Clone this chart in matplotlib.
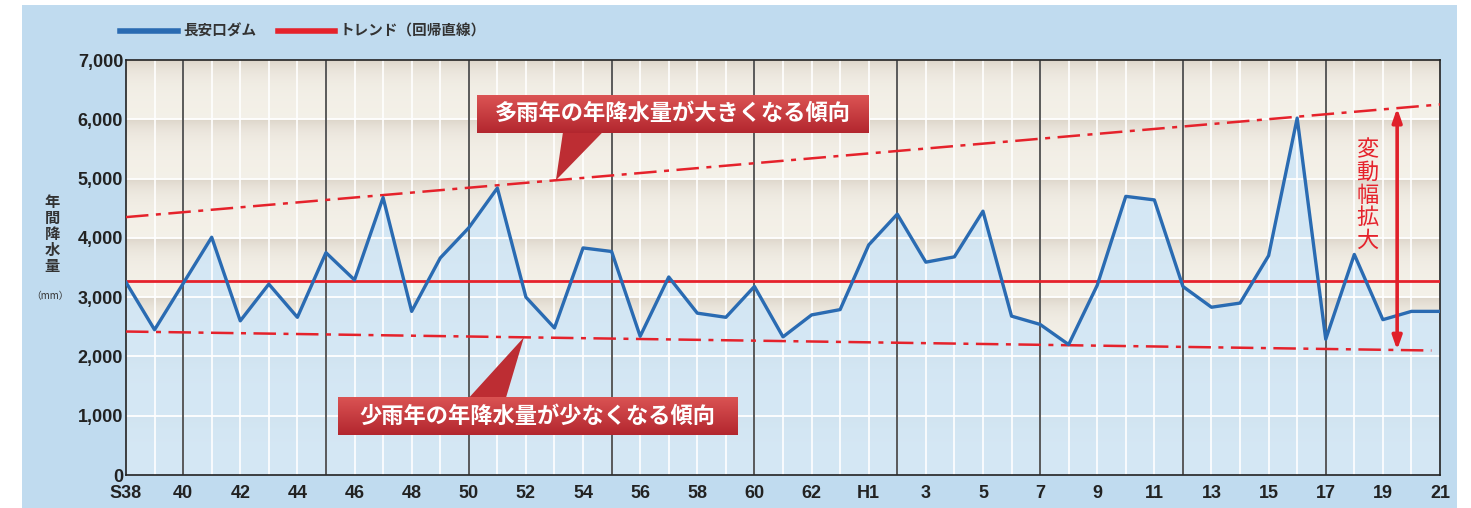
import numpy as np
import matplotlib.pyplot as plt
from matplotlib.lines import Line2D
from matplotlib.patches import Rectangle, Polygon

plt.rcParams['font.family'] = ['Noto Sans CJK JP', 'DejaVu Sans']

# annual rainfall at Nagayasuguchi dam (mm), S38 (1963) .. H21 (2009)
years = np.arange(1963, 2010)
rain = [3250, 2450, 3230, 4010, 2600, 3220, 2660, 3750, 3290, 4680,
        2760, 3660, 4170, 4840, 3000, 2480, 3830, 3770, 2340, 3340,
        2730, 2660, 3180, 2330, 2700, 2790, 3880, 4400, 3590, 3680,
        4450, 2680, 2540, 2200, 3200, 4700, 4640, 3180, 2830, 2900,
        3700, 6020, 2290, 3720, 2620, 2760, 2760]
mean_rain = 3280

# regression lines for wet / dry years (end points)
upper_years = [1963, 2009]
upper_trend = [4350, 6250]
lower_years = [1963, 2008.7]
lower_trend = [2420, 2100]

tick_years = [1963, 1965, 1967, 1969, 1971, 1973, 1975, 1977, 1979, 1981,
              1983, 1985, 1987, 1989, 1991, 1993, 1995, 1997, 1999, 2001,
              2003, 2005, 2007, 2009]
tick_labels = ['S38', '40', '42', '44', '46', '48', '50', '52', '54', '56',
               '58', '60', '62', 'H1', '3', '5', '7', '9', '11', '13',
               '15', '17', '19', '21']
y_ticks = [0, 1000, 2000, 3000, 4000, 5000, 6000, 7000]

series_name = '長安口ダム'
trend_name = 'トレンド（回帰直線）'
wet_note = '多雨年の年降水量が大きくなる傾向'
dry_note = '少雨年の年降水量が少なくなる傾向'
range_note = '変動幅拡大'

W, H = 1471, 508
fig = plt.figure(figsize=(W / 100, H / 100), dpi=100)
fig.patch.set_facecolor('white')
fig.add_artist(Rectangle((22 / W, 0), (1457 - 22) / W, 1 - 5 / H,
                         transform=fig.transFigure, fc='#c0dbef', ec='none', zorder=0))

ax = fig.add_axes([126 / W, 1 - 475 / H, (1440 - 126) / W, (475 - 60) / H])
ax.set_xlim(1963, 2009)
ax.set_ylim(0, 7000)

# beige background with a soft shadow under each 1000 mm line
yy = np.linspace(0, 7000, 1400)
dist = (1000 - (yy % 1000)) / 1000
shade = np.exp(-dist / 0.22)
light = np.array([0.957, 0.944, 0.912])
dark = np.array([0.865, 0.835, 0.790])
img = light[None, :] + (dark - light)[None, :] * shade[:, None]
ax.imshow(img[:, None, :], extent=[1963, 2009, 0, 7000], origin='lower',
          aspect='auto', zorder=0, interpolation='bilinear')

ax.fill_between(years, rain, 0, color='#cfe6f7', alpha=0.85, lw=0, zorder=1)

ax.hlines(y_ticks[1:-1], 1963, 2009, color='white', lw=1.3, zorder=2)
ax.vlines(years[1:-1], 0, 7000, color='white', lw=1.2, zorder=2)
ax.vlines(np.arange(1965, 2009, 5), 0, 7000, color='#2e2e2e', lw=1.1, zorder=3)

red = '#e5222b'
ax.axhline(mean_rain, color=red, lw=2.0, zorder=4)
ax.plot(upper_years, upper_trend, color=red, lw=1.8, ls=(0, (9, 3, 2, 3)), zorder=4)
ax.plot(lower_years, lower_trend, color=red, lw=1.8, ls=(0, (9, 3, 2, 3)), zorder=4)
ax.plot(years, rain, color='#2a6bb2', lw=2.4, zorder=5)

# range arrow between the two trend lines
ay = 2007.5
ax.annotate('', xy=(ay, np.interp(ay, upper_years, upper_trend)),
            xytext=(ay, np.interp(ay, lower_years, lower_trend)),
            arrowprops=dict(arrowstyle='<|-|>,head_length=0.8,head_width=0.28',
                            color='#e0202a', lw=2.6, shrinkA=0, shrinkB=0), zorder=6)
ax.text(2006.45, 4720, '\n'.join(range_note), color=red, fontsize=16,
        ha='center', va='center', linespacing=0.98, zorder=6)


# red callout box with a small pointer to a trend line
grad = np.linspace(0, 1, 64)
box_top = np.array([0.86, 0.33, 0.33])
box_bot = np.array([0.70, 0.15, 0.18])
box_img = (box_bot[None, :] + (box_top - box_bot)[None, :] * grad[:, None])[:, None, :]


def callout(text, x0, x1, y0, y1, base, tip):
    ax.add_patch(Polygon([(base[0], base[2]), (base[1], base[2]), tip],
                         closed=True, fc='#bd2d33', ec='none', zorder=7))
    rect = Rectangle((x0, y0), x1 - x0, y1 - y0, fc='none', ec='none', zorder=7)
    ax.add_patch(rect)
    im = ax.imshow(box_img, extent=[x0, x1, y0, y1], origin='lower',
                   aspect='auto', zorder=7.5, interpolation='bilinear')
    im.set_clip_path(rect)
    ax.text((x0 + x1) / 2, (y0 + y1) / 2, text, color='white', fontsize=16,
            fontweight='bold', ha='center', va='center', zorder=8)


wx = 1978.05
callout(wet_note, 1975.3, 1989.0, 5770, 6410,
        (1978.3, 1979.7, 5790), (wx, np.interp(wx, upper_years, upper_trend)))
dx = 1976.93
callout(dry_note, 1970.42, 1984.39, 675, 1316,
        (1975.0, 1976.3, 1300), (dx, np.interp(dx, lower_years, lower_trend)))

ax.set_xticks(tick_years)
ax.set_xticklabels(tick_labels, fontfamily='Liberation Sans', fontweight='bold',
                   fontsize=13, color='#222222')
ax.set_yticks(y_ticks)
ax.set_yticklabels([f'{v:,}' for v in y_ticks], fontfamily='Liberation Sans',
                   fontweight='bold', fontsize=13, color='#222222')
ax.tick_params(axis='x', length=0, pad=7)
ax.tick_params(axis='y', length=0, pad=2)
for s in ax.spines.values():
    s.set_color('#222222')
    s.set_linewidth(1.2)

# legend drawn by hand at the top
ly = 1 - 31 / H
fig.add_artist(Line2D([120 / W, 178 / W], [ly, ly], color='#2a6bb2', lw=4,
                      transform=fig.transFigure))
fig.text(183 / W, ly, series_name, fontsize=10.5, fontweight='bold',
         color='#333333', va='center')
fig.add_artist(Line2D([278 / W, 335 / W], [ly, ly], color=red, lw=4,
                      transform=fig.transFigure))
fig.text(340 / W, ly, trend_name, fontsize=10.5, fontweight='bold',
         color='#333333', va='center')

fig.text(52 / W, 1 - 234 / H, '\n'.join('年間降水量'), fontsize=11, fontweight='bold',
         color='#333333', ha='center', va='center', linespacing=1.0)
fig.text(50 / W, 1 - 296 / H, '（mm）', fontsize=7, color='#333333',
         ha='center', va='center')

fig.savefig('out.png', dpi=100)
